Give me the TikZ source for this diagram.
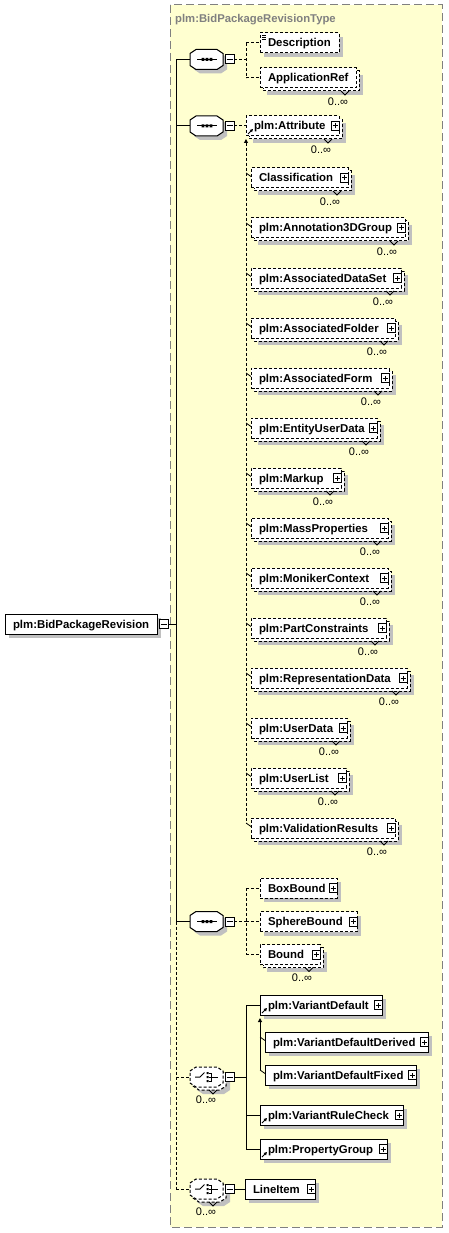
\documentclass[tikz,border=0pt]{standalone}
\usepackage{fontspec}
\setmainfont{Liberation Sans}
\usetikzlibrary{arrows.meta,calc}
\definecolor{bgyellow}{RGB}{255,255,208}
\definecolor{shadowc}{RGB}{192,192,192}
\definecolor{framegray}{RGB}{128,128,128}
\tikzset{
  dsh/.style={dash pattern=on 3pt off 2pt},
  boxline/.style={draw=black,line width=1pt,fill=white},
  elembox/.style={boxline,rectangle,inner sep=0pt,outer sep=0pt,minimum height=20pt},
  etext/.style={font=\bfseries\fontsize{11.4}{13}\selectfont,inner sep=0pt,outer sep=0pt,anchor=base west},
  mult/.style={font=\fontsize{11}{12}\selectfont,inner sep=0pt},
  conn/.style={line width=1pt},
  dconn/.style={line width=1pt,dash pattern=on 3pt off 2pt},
  plusbox/.style={draw=black,fill=white,line width=1pt,minimum width=8pt,minimum height=9pt,inner sep=0pt,outer sep=0pt,
    path picture={\draw[line width=1pt] ([xshift=-2.5pt]path picture bounding box.center) -- ([xshift=2.5pt]path picture bounding box.center) ([yshift=-2.5pt]path picture bounding box.center) -- ([yshift=2.5pt]path picture bounding box.center);}},
  minusbox/.style={draw=black,fill=white,line width=1pt,minimum width=9pt,minimum height=9pt,inner sep=0pt,outer sep=0pt,
    path picture={\draw[line width=1pt] ([xshift=-3pt]path picture bounding box.center) -- ([xshift=3pt]path picture bounding box.center);}},
  subarrow/.style={{Triangle[length=4pt,width=4pt]}-},
}
\newcommand\SBox[6]{%
  \fill[shadowc] (#2+4,#4-6) rectangle (#3+4,#4+14);
  \node[elembox,#5,minimum width=#3-#2,anchor=west] (#1) at (#2,#4) {};
  \node[etext] (#1-t) at (#2+8,#4+4) {#6};
}
\newcommand\MBox[6]{%
  \fill[shadowc] (#2+7,#4-3) rectangle (#3+7,#4+17);
  \draw[boxline,#5] (#2+3,#4-7) rectangle (#3+3,#4+13);
  \node[elembox,#5,minimum width=#3-#2,anchor=west] (#1) at (#2,#4) {};
  \node[etext] (#1-t) at (#2+8,#4+4) {#6};
  \draw[line width=1pt] (#3-15,#4+13) -- (#3-11,#4+17) -- (#3-7,#4+13);
  \node[mult] (#1-m) at (#3-18,#4+23.5) {0..∞};
}
\newcommand\PlusOn[1]{\node[plusbox,anchor=east] (#1-p) at (#1.east) {};}
\newcommand\RefOn[1]{\draw[line width=0.8pt,-{Triangle[length=3pt,width=3pt]}] ($(#1.south west)+(2,-2)$) -- ($(#1.south west)+(7,-7)$);}
\newcommand\SeqOct[2]{%
  \fill[shadowc] (194,#2-2) -- (200,#2-6) -- (221,#2-6) -- (227,#2-2) -- (227,#2+10) -- (221,#2+14) -- (200,#2+14) -- (194,#2+10) -- cycle;
  \draw[line width=1pt,fill=white] (190,#2-6) -- (196,#2-10) -- (217,#2-10) -- (223,#2-6) -- (223,#2+6) -- (217,#2+10) -- (196,#2+10) -- (190,#2+6) -- cycle;
  \node[inner sep=0pt,outer sep=0pt,minimum width=33pt,minimum height=20pt] (#1) at (206.5,#2) {};
  \draw[line width=1pt] (197,#2) -- (217,#2);
  \fill (201.7,#2-1.5) rectangle (204.3,#2+1.5) (205.7,#2-1.5) rectangle (208.3,#2+1.5) (209.7,#2-1.5) rectangle (212.3,#2+1.5);
  \node[minusbox] (#1-x) at (229.5,#2) {};
}
\newcommand\ChOct[2]{%
  \fill[shadowc] (197,#2+1) -- (203,#2-3) -- (224,#2-3) -- (230,#2+1) -- (230,#2+13) -- (224,#2+17) -- (203,#2+17) -- (197,#2+13) -- cycle;
  \draw[line width=1pt,fill=white,dsh] (193,#2-3) -- (199,#2-7) -- (220,#2-7) -- (226,#2-3) -- (226,#2+9) -- (220,#2+13) -- (199,#2+13) -- (193,#2+9) -- cycle;
  \draw[line width=1pt,fill=white,dsh] (190,#2-6) -- (196,#2-10) -- (217,#2-10) -- (223,#2-6) -- (223,#2+6) -- (217,#2+10) -- (196,#2+10) -- (190,#2+6) -- cycle;
  \node[inner sep=0pt,outer sep=0pt,minimum width=33pt,minimum height=20pt] (#1) at (206.5,#2) {};
  \draw[line width=1pt] (195,#2) -- (200,#2) -- (204.5,#2-4.5);
  \fill (206.5,#2-5) rectangle (208.5,#2-3) (206.5,#2-1) rectangle (208.5,#2+1) (206.5,#2+3) rectangle (208.5,#2+5);
  \draw[line width=1pt] (209,#2-4) -- (211.5,#2-4) -- (211.5,#2+4) -- (209,#2+4) (209,#2) -- (218,#2);
  \draw[line width=1pt] (209,#2+13) -- (213,#2+17) -- (217,#2+13);
  \node[mult] (#1-m) at (206,#2+22.5) {0..∞};
  \node[minusbox] (#1-x) at (229.5,#2) {};
}
\begin{document}
\begin{tikzpicture}[x=1pt,y=-1pt]
\useasboundingbox (0,0) rectangle (449,1233);
\draw[framegray,line width=1pt,dash pattern=on 8pt off 4pt,fill=bgyellow] (170,5) rectangle (442,1227);
\node[font=\bfseries\fontsize{11.3}{13}\selectfont,text=framegray,anchor=base west,inner sep=0pt] (title) at (175,22.5) {plm:BidPackageRevisionType};

% root element
\SBox{root}{5}{157}{624}{solid}{plm:BidPackageRevision}
\node[minusbox] (rootx) at (163.5,624) {};
\coordinate (tk) at (176,624);
\draw[conn] (rootx.east) -- (tk);

% compositors
\SeqOct{s1}{59.5}
\SeqOct{s2}{126}
\SeqOct{s3}{921.5}
\ChOct{c1}{1077}
\ChOct{c2}{1189}
\draw[conn] (s1.west -| tk) -- (s3.west -| tk);
\draw[dconn] (s3.west -| tk) -- (c2.west -| tk);
\foreach \s in {s1,s2,s3} \draw[conn] (\s.west -| tk) -- (\s.west);
\foreach \s in {c1,c2} \draw[dconn] (\s.west -| tk) -- (\s.west);

% sequence 1
\SBox{desc}{260}{339}{43}{dsh}{Description}
\draw[line width=0.7pt] ($(desc.north west)+(2,2.5)$) -- +(4,0) ($(desc.north west)+(2,4.5)$) -- +(4,0) ($(desc.north west)+(2,6.5)$) -- +(4,0);
\MBox{appref}{260}{356}{78}{dsh}{ApplicationRef}
\coordinate (b1) at (246,59.5);
\draw[dconn] (s1-x.east) -- (b1);
\draw[dconn] (b1 |- desc.west) -- (b1 |- appref.west);
\draw[dconn] (b1 |- desc.west) -- (desc.west);
\draw[dconn] (b1 |- appref.west) -- (appref.west);

% sequence 2
\MBox{attr}{246}{339}{126}{dsh}{plm:Attribute}\PlusOn{attr}\RefOn{attr}
\draw[dconn] (s2-x.east) -- (attr.west);
\MBox{m1}{251}{348}{178}{dsh}{Classification}\PlusOn{m1}
\MBox{m2}{251}{405}{228}{dsh}{plm:Annotation3DGroup}\PlusOn{m2}
\MBox{m3}{251}{401}{278}{dsh}{plm:AssociatedDataSet}\PlusOn{m3}
\MBox{m4}{251}{395}{328}{dsh}{plm:AssociatedFolder}\PlusOn{m4}
\MBox{m5}{251}{389}{378}{dsh}{plm:AssociatedForm}\PlusOn{m5}
\MBox{m6}{251}{377}{428}{dsh}{plm:EntityUserData}\PlusOn{m6}
\MBox{m7}{251}{341}{478}{dsh}{plm:Markup}\PlusOn{m7}
\MBox{m8}{251}{388}{528}{dsh}{plm:MassProperties}\PlusOn{m8}
\MBox{m9}{251}{388}{578}{dsh}{plm:MonikerContext}\PlusOn{m9}
\MBox{m10}{251}{386}{628}{dsh}{plm:PartConstraints}\PlusOn{m10}
\MBox{m11}{251}{407}{678}{dsh}{plm:RepresentationData}\PlusOn{m11}
\MBox{m12}{251}{347}{728}{dsh}{plm:UserData}\PlusOn{m12}
\MBox{m13}{251}{346}{778}{dsh}{plm:UserList}\PlusOn{m13}
\MBox{m14}{251}{395}{828}{dsh}{plm:ValidationResults}\PlusOn{m14}
\draw[dconn,subarrow] ([yshift=-3pt]attr.south west) -- ($(m14.west)+(-5,-5)$);
\foreach \i in {1,...,14} \draw[conn,line width=0.8pt] ($(m\i.west)+(-5,-5)$) -- ($(m\i.west)+(0,-1.5)$);

% sequence 3
\SBox{bb}{260}{337}{888}{dsh}{BoxBound}\PlusOn{bb}
\SBox{sb}{260}{357}{921.5}{dsh}{SphereBound}\PlusOn{sb}
\MBox{bd}{260}{320}{954.5}{dsh}{Bound}\PlusOn{bd}
\coordinate (b3) at (246,921.5);
\draw[dconn] (s3-x.east) -- (b3);
\draw[dconn] (b3 |- bb.west) -- (b3 |- bd.west);
\foreach \n in {bb,sb,bd} \draw[dconn] (b3 |- \n.west) -- (\n.west);

% choice 1
\SBox{vd}{260}{382}{1005}{solid}{plm:VariantDefault}\PlusOn{vd}\RefOn{vd}
\SBox{vdd}{265}{428}{1042}{solid}{plm:VariantDefaultDerived}\PlusOn{vdd}
\SBox{vdf}{265}{416}{1075}{solid}{plm:VariantDefaultFixed}\PlusOn{vdf}
\SBox{vrc}{260}{403}{1115}{solid}{plm:VariantRuleCheck}\PlusOn{vrc}\RefOn{vrc}
\SBox{pg}{260}{387}{1149}{solid}{plm:PropertyGroup}\PlusOn{pg}\RefOn{pg}
\coordinate (b4) at (246,1077);
\draw[conn] (c1-x.east) -- (b4);
\draw[conn] (b4 |- vd.west) -- (b4 |- pg.west);
\foreach \n in {vd,vrc,pg} \draw[conn] (b4 |- \n.west) -- (\n.west);
\draw[conn,subarrow] ([yshift=-3pt]vd.south west) -- ($(vdf.west)+(-5,-5)$);
\foreach \n in {vdd,vdf} \draw[conn,line width=0.8pt] ($(\n.west)+(-5,-5)$) -- ($(\n.west)+(0,-1.5)$);

% choice 2
\SBox{li}{245}{315}{1189}{solid}{LineItem}\PlusOn{li}
\draw[conn] (c2-x.east) -- (li.west);
\end{tikzpicture}
\end{document}
